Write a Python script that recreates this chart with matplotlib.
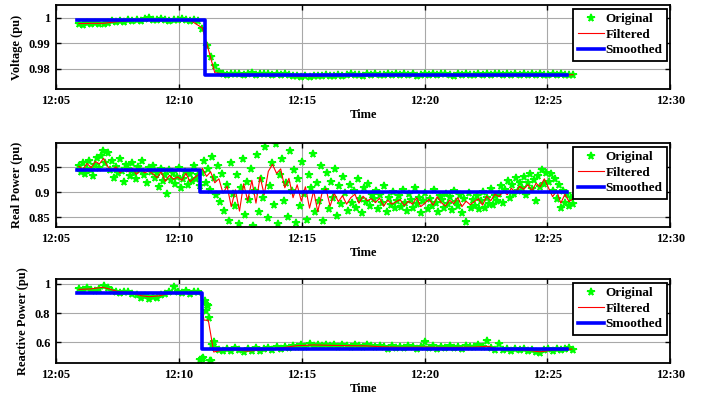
import numpy as np
import matplotlib.pyplot as plt

plt.rcParams['font.family'] = ['Liberation Serif', 'DejaVu Serif']
plt.rcParams['font.weight'] = 'bold'
plt.rcParams['axes.labelweight'] = 'bold'
plt.rcParams['font.size'] = 9

# x axis: minutes after 12:00
tick_minutes = [5, 10, 15, 20, 25, 30]
tick_labels = ['12:05', '12:10', '12:15', '12:20', '12:25', '12:30']

# span of the recorded samples (minutes after 12:00)
data_start, data_end = 5.93, 26.05

# ---- Voltage ----
voltage_orig = [
    0.9976, 0.9972, 0.9979, 0.9975, 0.9980, 0.9977,
    0.9974, 0.9981, 0.9986, 0.9983, 0.9988, 0.9985,
    0.9990, 0.9987, 0.9992, 0.9989, 0.9995, 0.9998,
    0.9993, 0.9990, 0.9994, 0.9991, 0.9989, 0.9993,
    0.9990, 0.9994, 0.9991, 0.9988, 0.9992, 0.9987,
    0.9955, 0.9890, 0.9845, 0.9810, 0.9785, 0.9779,
    0.9776, 0.9780, 0.9777, 0.9779, 0.9775, 0.9778,
    0.9781, 0.9776, 0.9779, 0.9777, 0.9780, 0.9776,
    0.9778, 0.9775, 0.9777, 0.9774, 0.9772, 0.9770,
    0.9768, 0.9771, 0.9769, 0.9773, 0.9770, 0.9772,
    0.9774, 0.9771, 0.9773, 0.9776, 0.9772, 0.9775,
    0.9777, 0.9774, 0.9776, 0.9773, 0.9777, 0.9775,
    0.9778, 0.9774, 0.9776, 0.9779, 0.9775, 0.9777,
    0.9774, 0.9778, 0.9775, 0.9777, 0.9773, 0.9776,
    0.9779, 0.9775, 0.9778, 0.9774, 0.9777, 0.9780,
    0.9776, 0.9773, 0.9777, 0.9775, 0.9779, 0.9776,
    0.9774, 0.9778, 0.9776, 0.9779, 0.9775, 0.9777,
    0.9780, 0.9776, 0.9778, 0.9774, 0.9777, 0.9775,
    0.9778, 0.9776, 0.9779, 0.9775, 0.9777, 0.9774,
    0.9776, 0.9778, 0.9775, 0.9777, 0.9774, 0.9776, 0.9775,
]
voltage_filt = [
    0.9977, 0.9978, 0.9978, 0.9984, 0.9988, 0.9993, 0.9992, 0.9991,
    0.9991, 0.9990, 0.9960, 0.9784, 0.9777, 0.9778, 0.9778, 0.9777,
    0.9776, 0.9773, 0.9770, 0.9771, 0.9773, 0.9774, 0.9775, 0.9776,
    0.9776, 0.9776, 0.9777, 0.9776, 0.9776, 0.9777, 0.9776, 0.9776,
    0.9777, 0.9776, 0.9777, 0.9776, 0.9776, 0.9777, 0.9776, 0.9776,
    0.9776,
]
voltage_step_t = [5.85, 11.07, 25.8]
voltage_step = [0.9992, 0.9775]

# ---- Real power ----
power_orig = [
    0.952, 0.941, 0.958, 0.936, 0.947, 0.962, 0.944, 0.933, 0.955, 0.968, 0.949, 0.973,
    0.983, 0.958, 0.978, 0.944, 0.962, 0.929, 0.951, 0.938, 0.966, 0.943, 0.921, 0.955,
    0.947, 0.932, 0.958, 0.939, 0.926, 0.951, 0.944, 0.963, 0.935, 0.918, 0.949, 0.941,
    0.952, 0.928, 0.939, 0.911, 0.946, 0.922, 0.934, 0.897, 0.944, 0.925, 0.938, 0.917,
    0.931, 0.948, 0.909, 0.927, 0.941, 0.915, 0.936, 0.922, 0.952, 0.926, 0.934, 0.912,
    0.938, 0.962, 0.918, 0.947, 0.905, 0.971, 0.928, 0.894, 0.952, 0.881, 0.936, 0.862,
    0.915, 0.843, 0.958, 0.896, 0.872, 0.934, 0.836, 0.908, 0.967, 0.855, 0.921, 0.884,
    0.947, 0.832, 0.903, 0.975, 0.861, 0.926, 0.889, 0.991, 0.848, 0.912, 0.958, 0.874,
    0.998, 0.836, 0.935, 0.967, 0.882, 0.918, 0.851, 0.982, 0.903, 0.944, 0.839, 0.927,
    0.872, 0.961, 0.896, 0.845, 0.934, 0.908, 0.977, 0.861, 0.919, 0.883, 0.952, 0.842,
    0.905, 0.938, 0.866, 0.921, 0.889, 0.947, 0.853, 0.912, 0.876, 0.931, 0.898, 0.862,
    0.914, 0.879, 0.903, 0.868, 0.926, 0.887, 0.859, 0.908, 0.881, 0.917, 0.872, 0.895,
    0.886, 0.903, 0.866, 0.894, 0.878, 0.912, 0.861, 0.889, 0.874, 0.901, 0.868, 0.883,
    0.892, 0.871, 0.905, 0.879, 0.863, 0.897, 0.884, 0.869, 0.908, 0.876, 0.889, 0.858,
    0.882, 0.899, 0.867, 0.887, 0.873, 0.904, 0.878, 0.861, 0.893, 0.884, 0.869, 0.897,
    0.876, 0.891, 0.864, 0.902, 0.881, 0.872, 0.895, 0.858, 0.887, 0.841, 0.899, 0.868,
    0.885, 0.873, 0.893, 0.866, 0.882, 0.901, 0.869, 0.889, 0.877, 0.906, 0.874, 0.892,
    0.883, 0.897, 0.912, 0.879, 0.905, 0.922, 0.889, 0.914, 0.896, 0.928, 0.903, 0.918,
    0.908, 0.931, 0.894, 0.919, 0.937, 0.906, 0.925, 0.882, 0.933, 0.911, 0.944, 0.917,
    0.938, 0.921, 0.936, 0.902, 0.927, 0.886, 0.915, 0.868, 0.903, 0.879, 0.897, 0.872,
    0.889, 0.876,
]
power_filt = [
    0.952, 0.946, 0.958, 0.949, 0.962, 0.957,
    0.968, 0.952, 0.944, 0.951, 0.939, 0.946,
    0.941, 0.948, 0.936, 0.945, 0.939, 0.943,
    0.937, 0.929, 0.941, 0.922, 0.934, 0.926,
    0.931, 0.924, 0.938, 0.921, 0.929, 0.935,
    0.948, 0.932, 0.941, 0.919, 0.927, 0.898,
    0.912, 0.871, 0.905, 0.862, 0.917, 0.883,
    0.924, 0.878, 0.931, 0.895, 0.942, 0.956,
    0.938, 0.947, 0.909, 0.928, 0.889, 0.915,
    0.882, 0.911, 0.868, 0.903, 0.861, 0.897,
    0.907, 0.872, 0.898, 0.881, 0.893, 0.876,
    0.889, 0.896, 0.878, 0.892, 0.883, 0.887,
    0.879, 0.888, 0.872, 0.884, 0.876, 0.881,
    0.885, 0.873, 0.882, 0.876, 0.889, 0.871,
    0.878, 0.886, 0.874, 0.891, 0.879, 0.872,
    0.884, 0.877, 0.889, 0.871, 0.882, 0.875,
    0.881, 0.887, 0.874, 0.892, 0.883, 0.896,
    0.891, 0.902, 0.895, 0.908, 0.899, 0.912,
    0.906, 0.915, 0.903, 0.918, 0.911, 0.927,
    0.909, 0.891, 0.903, 0.878, 0.896, 0.881,
    0.887,
]
power_step_t = [5.85, 10.86, 25.8]
power_step = [0.945, 0.900]

# ---- Reactive power ----
reactive_orig = [
    0.968, 0.955, 0.972, 0.961, 0.949, 0.966,
    0.988, 0.974, 0.951, 0.944, 0.938, 0.947,
    0.942, 0.930, 0.921, 0.906, 0.918, 0.895,
    0.912, 0.903, 0.924, 0.931, 0.941, 0.975,
    0.943, 0.936, 0.949, 0.932, 0.946, 0.941,
    0.487, 0.858, 0.476, 0.563, 0.551, 0.544,
    0.556, 0.541, 0.562, 0.548, 0.536, 0.553,
    0.545, 0.559, 0.539, 0.552, 0.564, 0.547,
    0.568, 0.555, 0.572, 0.561, 0.579, 0.566,
    0.582, 0.571, 0.589, 0.576, 0.584, 0.573,
    0.586, 0.575, 0.581, 0.569, 0.584, 0.577,
    0.572, 0.585, 0.578, 0.567, 0.581, 0.574,
    0.566, 0.579, 0.571, 0.558, 0.575, 0.563,
    0.572, 0.561, 0.577, 0.566, 0.555, 0.569,
    0.603, 0.564, 0.573, 0.558, 0.568, 0.561,
    0.574, 0.563, 0.569, 0.557, 0.578, 0.566,
    0.571, 0.583, 0.568, 0.612, 0.562, 0.551,
    0.592, 0.546, 0.558, 0.541, 0.553, 0.549,
    0.556, 0.544, 0.551, 0.538, 0.529, 0.547,
    0.553, 0.541, 0.558, 0.546, 0.552, 0.561, 0.548,
]
# extra samples caught in the transition around 12:11
reactive_jump_t = [10.88, 10.98, 11.05, 11.1, 11.17, 11.22, 11.27, 11.35, 11.42]
reactive_jump = [0.478, 0.493, 0.885, 0.812, 0.846, 0.768, 0.472, 0.584, 0.603]
reactive_filt_t = [5.93, 6.4, 6.9, 7.1, 7.5, 8.0, 8.5, 8.8, 9.2, 9.6, 10.0, 10.5,
                   10.88, 11.02, 11.2, 11.42, 11.8, 12.3, 12.8, 13.3, 13.8, 14.3,
                   14.8, 15.5, 16.2, 17.0, 17.6, 18.2, 19.0, 20.0, 21.0, 22.0,
                   22.6, 23.0, 23.8, 24.3, 24.7, 25.2, 25.7, 26.0]
reactive_filt = [0.962, 0.965, 0.976, 0.968, 0.948, 0.940, 0.918, 0.912, 0.918, 0.935,
                 0.940, 0.941, 0.938, 0.752, 0.752, 0.535, 0.549, 0.550, 0.541, 0.548,
                 0.556, 0.566, 0.578, 0.583, 0.580, 0.578, 0.577, 0.571, 0.567, 0.568,
                 0.566, 0.568, 0.574, 0.553, 0.551, 0.545, 0.536, 0.548, 0.552, 0.555]
reactive_step_t = [5.85, 10.94, 25.8]
reactive_step = [0.940, 0.557]


def even_times(values):
    return np.linspace(data_start, data_end, len(values))


panels = [
    dict(label='Voltage (pu)', bottom=0.7764,
         orig_t=even_times(voltage_orig), orig=voltage_orig,
         filt_t=even_times(voltage_filt), filt=voltage_filt,
         step_t=voltage_step_t, step=voltage_step,
         ylim=(0.972, 1.005), yticks=[0.98, 0.99, 1.0]),
    dict(label='Real Power (pu)', bottom=0.4296,
         orig_t=even_times(power_orig), orig=power_orig,
         filt_t=even_times(power_filt), filt=power_filt,
         step_t=power_step_t, step=power_step,
         ylim=(0.83, 0.999), yticks=[0.85, 0.9, 0.95]),
    dict(label='Reactive Power (pu)', bottom=0.088,
         orig_t=np.concatenate([even_times(reactive_orig), reactive_jump_t]),
         orig=reactive_orig + reactive_jump,
         filt_t=reactive_filt_t, filt=reactive_filt,
         step_t=reactive_step_t, step=reactive_step,
         ylim=(0.46, 1.033), yticks=[0.6, 0.8, 1.0]),
]

fig = plt.figure(figsize=(7.06, 3.98), dpi=100)

for p in panels:
    ax = fig.add_axes([0.0793, p['bottom'], 0.870, 0.211])
    ax.plot(p['orig_t'], p['orig'], linestyle='none', marker='*', markersize=5.5,
            color='#00ff00', markeredgewidth=1.2, label='Original', zorder=2)
    ax.plot(p['filt_t'], p['filt'], color='red', linewidth=0.8, label='Filtered', zorder=3)
    ax.step(p['step_t'], p['step'] + [p['step'][-1]], where='post',
            color='#0000ff', linewidth=2.6, label='Smoothed', zorder=4)

    ax.set_xlim(5, 30)
    ax.set_ylim(*p['ylim'])
    ax.set_xticks(tick_minutes)
    ax.set_xticklabels(tick_labels)
    ax.set_yticks(p['yticks'])
    ax.set_yticklabels(['%g' % v for v in p['yticks']])
    ax.grid(True, color='#a8a8a8', linewidth=0.8, linestyle='-')
    ax.set_axisbelow(True)
    ax.tick_params(direction='in', top=True, right=True, length=3.5, width=1, pad=4)
    for s in ax.spines.values():
        s.set_linewidth(1.3)
    ax.set_xlabel('Time', labelpad=2)
    ax.set_ylabel(p['label'], labelpad=4)

    leg = ax.legend(loc='upper right', bbox_to_anchor=(0.995, 0.958), borderaxespad=0,
                    fancybox=False, framealpha=1, edgecolor='black',
                    handlelength=2.0, handletextpad=0.1, labelspacing=0.25,
                    borderpad=0.35, fontsize=9.5)
    leg.get_frame().set_linewidth(1.3)

plt.savefig('out.png', dpi=100)
